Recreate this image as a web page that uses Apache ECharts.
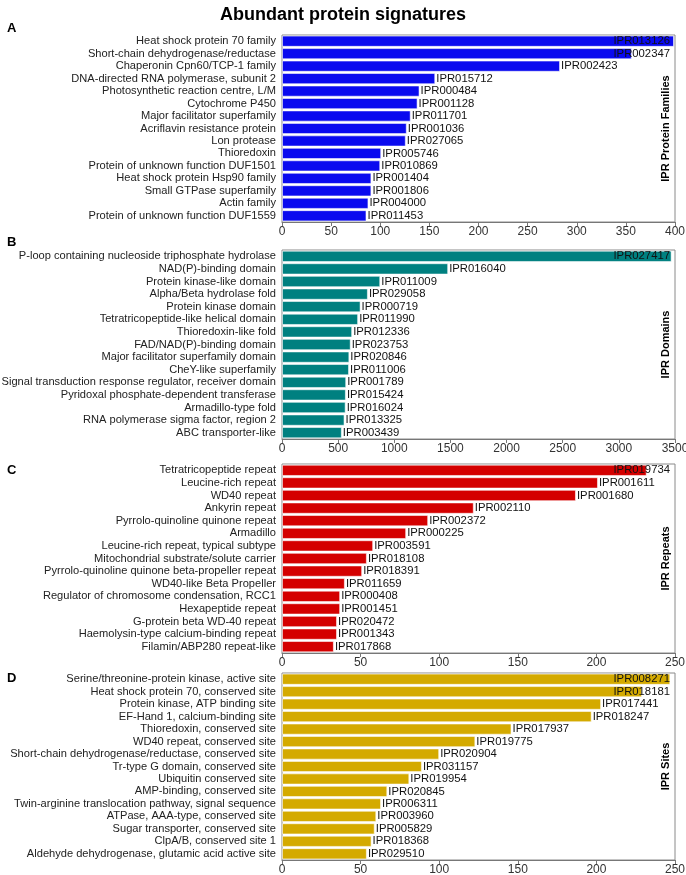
<!DOCTYPE html>
<html><head><meta charset="utf-8">
<script src="https://cdn.jsdelivr.net/npm/echarts@6/dist/echarts.min.js"></script>
<style>html,body{margin:0;padding:0;background:#fff}#c{width:686px;height:875px}</style>
</head><body><div id="c"></div>
<script>
var catsA = ["Heat shock protein 70 family","Short-chain dehydrogenase/reductase","Chaperonin Cpn60/TCP-1 family","DNA-directed RNA polymerase, subunit 2","Photosynthetic reaction centre, L/M","Cytochrome P450","Major facilitator superfamily","Acriflavin resistance protein","Lon protease","Thioredoxin","Protein of unknown function DUF1501","Heat shock protein Hsp90 family","Small GTPase superfamily","Actin family","Protein of unknown function DUF1559"];
var idsA = ["IPR013126","IPR002347","IPR002423","IPR015712","IPR000484","IPR001128","IPR011701","IPR001036","IPR027065","IPR005746","IPR010869","IPR001404","IPR001806","IPR004000","IPR011453"];
var valsA = [399,356,283,156,140,138,131,127,126,101,100,91,91,88,86];

var catsB = ["P-loop containing nucleoside triphosphate hydrolase","NAD(P)-binding domain","Protein kinase-like domain","Alpha/Beta hydrolase fold","Protein kinase domain","Tetratricopeptide-like helical domain","Thioredoxin-like fold","FAD/NAD(P)-binding domain","Major facilitator superfamily domain","CheY-like superfamily","Signal transduction response regulator, receiver domain","Pyridoxal phosphate-dependent transferase","Armadillo-type fold","RNA polymerase sigma factor, region 2","ABC transporter-like"];
var idsB = ["IPR027417","IPR016040","IPR011009","IPR029058","IPR000719","IPR011990","IPR012336","IPR023753","IPR020846","IPR011006","IPR001789","IPR015424","IPR016024","IPR013325","IPR003439"];
var valsB = [3470,1480,875,765,700,678,625,612,600,597,572,569,567,557,533];

var catsC = ["Tetratricopeptide repeat","Leucine-rich repeat","WD40 repeat","Ankyrin repeat","Pyrrolo-quinoline quinone repeat","Armadillo","Leucine-rich repeat, typical subtype","Mitochondrial substrate/solute carrier","Pyrrolo-quinoline quinone beta-propeller repeat","WD40-like Beta Propeller","Regulator of chromosome condensation, RCC1","Hexapeptide repeat","G-protein beta WD-40 repeat","Haemolysin-type calcium-binding repeat","Filamin/ABP280 repeat-like"];
var idsC = ["IPR019734","IPR001611","IPR001680","IPR002110","IPR002372","IPR000225","IPR003591","IPR018108","IPR018391","IPR011659","IPR000408","IPR001451","IPR020472","IPR001343","IPR017868"];
var valsC = [232,201,187,122,93,79,58,54,51,40,37,37,35,35,33];

var catsD = ["Serine/threonine-protein kinase, active site","Heat shock protein 70, conserved site","Protein kinase, ATP binding site","EF-Hand 1, calcium-binding site","Thioredoxin, conserved site","WD40 repeat, conserved site","Short-chain dehydrogenase/reductase, conserved site","Tr-type G domain, conserved site","Ubiquitin conserved site","AMP-binding, conserved site","Twin-arginine translocation pathway, signal sequence","ATPase, AAA-type, conserved site","Sugar transporter, conserved site","ClpA/B, conserved site 1","Aldehyde dehydrogenase, glutamic acid active site"];
var idsD = ["IPR008271","IPR018181","IPR017441","IPR018247","IPR017937","IPR019775","IPR020904","IPR031157","IPR019954","IPR020845","IPR006311","IPR003960","IPR005829","IPR018368","IPR029510"];
var valsD = [247,229,203,197,146,123,100,89,81,67,63,60,59,57,54];

var panelLetters = ["A","B","C","D"];
var panelNames = ["IPR Protein Families","IPR Domains","IPR Repeats","IPR Sites"];
var axisMax = [400,3500,250,250];
var axisStep = [50,500,50,50];
var colors = ["#0a0aef","#008080","#d40000","#d4aa00"];

var panels = [
  {cats:catsA, ids:idsA, vals:valsA},
  {cats:catsB, ids:idsB, vals:valsB},
  {cats:catsC, ids:idsC, vals:valsC},
  {cats:catsD, ids:idsD, vals:valsD}
];
var gridTops = [35,250,464,673];
var gridHeights = [187,189,189,187];
var letterY = [29,243,471,679];
var FONT = "Liberation Sans";
var W = 686, RIGHT = 11, LEFT = 282;

var chart = echarts.init(document.getElementById('c'), null, {renderer:'canvas'});
var grids=[], xAxes=[], yAxes=[], series=[], graphics=[];
panels.forEach(function(p,i){
  grids.push({left:LEFT, right:RIGHT, top:gridTops[i], height:gridHeights[i], show:true, borderColor:'#8a8a8a', borderWidth:1, containLabel:false, outerBoundsMode:'none'});
  xAxes.push({type:'value', gridIndex:i, min:0, max:axisMax[i], interval:axisStep[i],
    axisLine:{show:true, lineStyle:{color:'#777'}}, axisTick:{show:true, length:4, lineStyle:{color:'#777'}},
    splitLine:{show:false}, axisLabel:{color:'#333', fontSize:12, fontFamily:FONT, margin:4, formatter:function(v){return String(v);}}});
  yAxes.push({type:'category', gridIndex:i, data:p.cats, inverse:true,
    axisLine:{show:false}, axisTick:{show:false},
    axisLabel:{interval:0, color:'#222', fontSize:11.1, fontFamily:FONT, margin:6}});
  series.push({type:'bar', xAxisIndex:i, yAxisIndex:i, data:p.vals, barCategoryGap:'10%',
    itemStyle:{color:colors[i], borderColor:'rgba(255,255,255,0.55)', borderWidth:1},
    label:{show:true, position:'right', distance:1, color:'#111', fontSize:11.3, fontFamily:FONT,
      formatter:(function(ids){return function(q){return ids[q.dataIndex];};})(p.ids)},
    labelLayout:function(q){
      var lim = W - RIGHT - 5;
      if (q.labelRect.x + q.labelRect.width > lim) {
        return {x: lim - q.labelRect.width, y: q.labelRect.y + q.labelRect.height/2, align:'left', verticalAlign:'middle'};
      }
      return {};
    }
  });
  graphics.push({type:'text', left:7, top:letterY[i]-7, style:{text:panelLetters[i], font:'bold 13px '+FONT, fill:'#000'}});
  graphics.push({type:'text', x:666, y:gridTops[i]+gridHeights[i]/2, rotation:Math.PI/2,
    style:{text:panelNames[i], font:'bold 11px '+FONT, fill:'#000', textAlign:'center', textVerticalAlign:'middle'}});
});

chart.setOption({
  animation:false,
  title:{text:'Abundant protein signatures', left:'center', top:1, textStyle:{fontFamily:FONT, fontWeight:'bold', fontSize:18, color:'#000'}},
  grid:grids, xAxis:xAxes, yAxis:yAxes, series:series, graphic:graphics
});
</script></body></html>
